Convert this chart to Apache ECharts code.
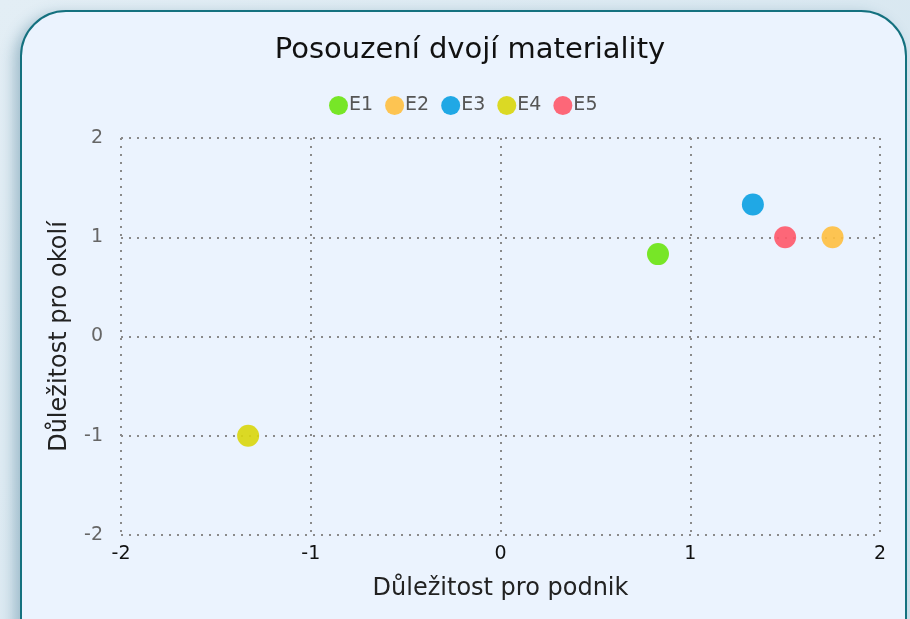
<!DOCTYPE html>
<html>
<head>
<meta charset="utf-8">
<script src="https://cdn.jsdelivr.net/npm/echarts@6/dist/echarts.min.js"></script>
<style>
  html, body {
    margin: 0;
    padding: 0;
    width: 910px;
    height: 619px;
    overflow: hidden;
    background: linear-gradient(135deg, #e3eef5, #d3e4ee);
  }
  .box {
    position: absolute;
    left: 20px;
    top: 10px;
    width: 883px;
    height: 660px;
    border: 2px solid #14717f;
    border-radius: 46px;
    background: #ebf3fe;
    box-shadow: -6px 4px 14px rgba(40, 100, 130, 0.35);
  }
  #chart {
    position: absolute;
    left: 0;
    top: 0;
    width: 910px;
    height: 619px;
  }
</style>
</head>
<body>
<div class="box"></div>
<div id="chart"></div>
<script>
  // hodnoty bodů [podnik, okolí]
  const names = ['E1', 'E2', 'E3', 'E4', 'E5']
  const xValues = [0.83, 1.75, 1.33, -1.33, 1.5]
  const yValues = [0.83, 1, 1.33, -1, 1]
  const colors = ['#6ae410', '#ffbf3f', '#0aa0e2', '#d9d60c', '#ff5869']
  const ticks = [-2, -1, 0, 1, 2]

  const font = 'DejaVu Sans'
  const chart = echarts.init(document.getElementById('chart'))

  const series = names.map((n, i) => ({
    name: n,
    type: 'scatter',
    symbolSize: 22,
    itemStyle: { color: colors[i], opacity: 0.9 },
    data: [[xValues[i], yValues[i]]]
  }))

  chart.setOption({
    animation: false,
    color: colors,
    title: {
      text: 'Posouzení dvojí materiality',
      left: 465,
      top: 31,
      textAlign: 'center',
      textStyle: { fontFamily: font, fontSize: 29, fontWeight: 'normal', color: '#111' }
    },
    legend: {
      data: names,
      left: 324,
      top: 91,
      icon: 'circle',
      itemWidth: 19,
      itemHeight: 19,
      itemGap: 12,
      textStyle: { fontFamily: font, fontSize: 19, color: '#555', padding: [0, 0, 0, -4] }
    },
    grid: { left: 121, right: 30, top: 138, bottom: 84, containLabel: false },
    xAxis: {
      type: 'value',
      min: ticks[0],
      max: ticks[ticks.length - 1],
      interval: 1,
      name: 'Důležitost pro podnik',
      nameLocation: 'middle',
      nameGap: 42,
      nameTextStyle: { fontFamily: font, fontSize: 24, color: '#222' },
      axisLine: { show: false },
      axisTick: { show: false },
      axisLabel: { fontFamily: font, fontSize: 19, color: '#111', margin: 10 },
      splitLine: { lineStyle: { type: [2, 6], color: '#8a8a8a', width: 2 } }
    },
    yAxis: {
      type: 'value',
      min: ticks[0],
      max: ticks[ticks.length - 1],
      interval: 1,
      name: 'Důležitost pro okolí',
      nameLocation: 'middle',
      nameGap: 49,
      nameTextStyle: { fontFamily: font, fontSize: 24, color: '#222' },
      axisLine: { show: false },
      axisTick: { show: false },
      axisLabel: { fontFamily: font, fontSize: 19, color: '#666', margin: 18 },
      splitLine: { lineStyle: { type: [2, 6], color: '#8a8a8a', width: 2 } }
    },
    series: series
  })
</script>
</body>
</html>
